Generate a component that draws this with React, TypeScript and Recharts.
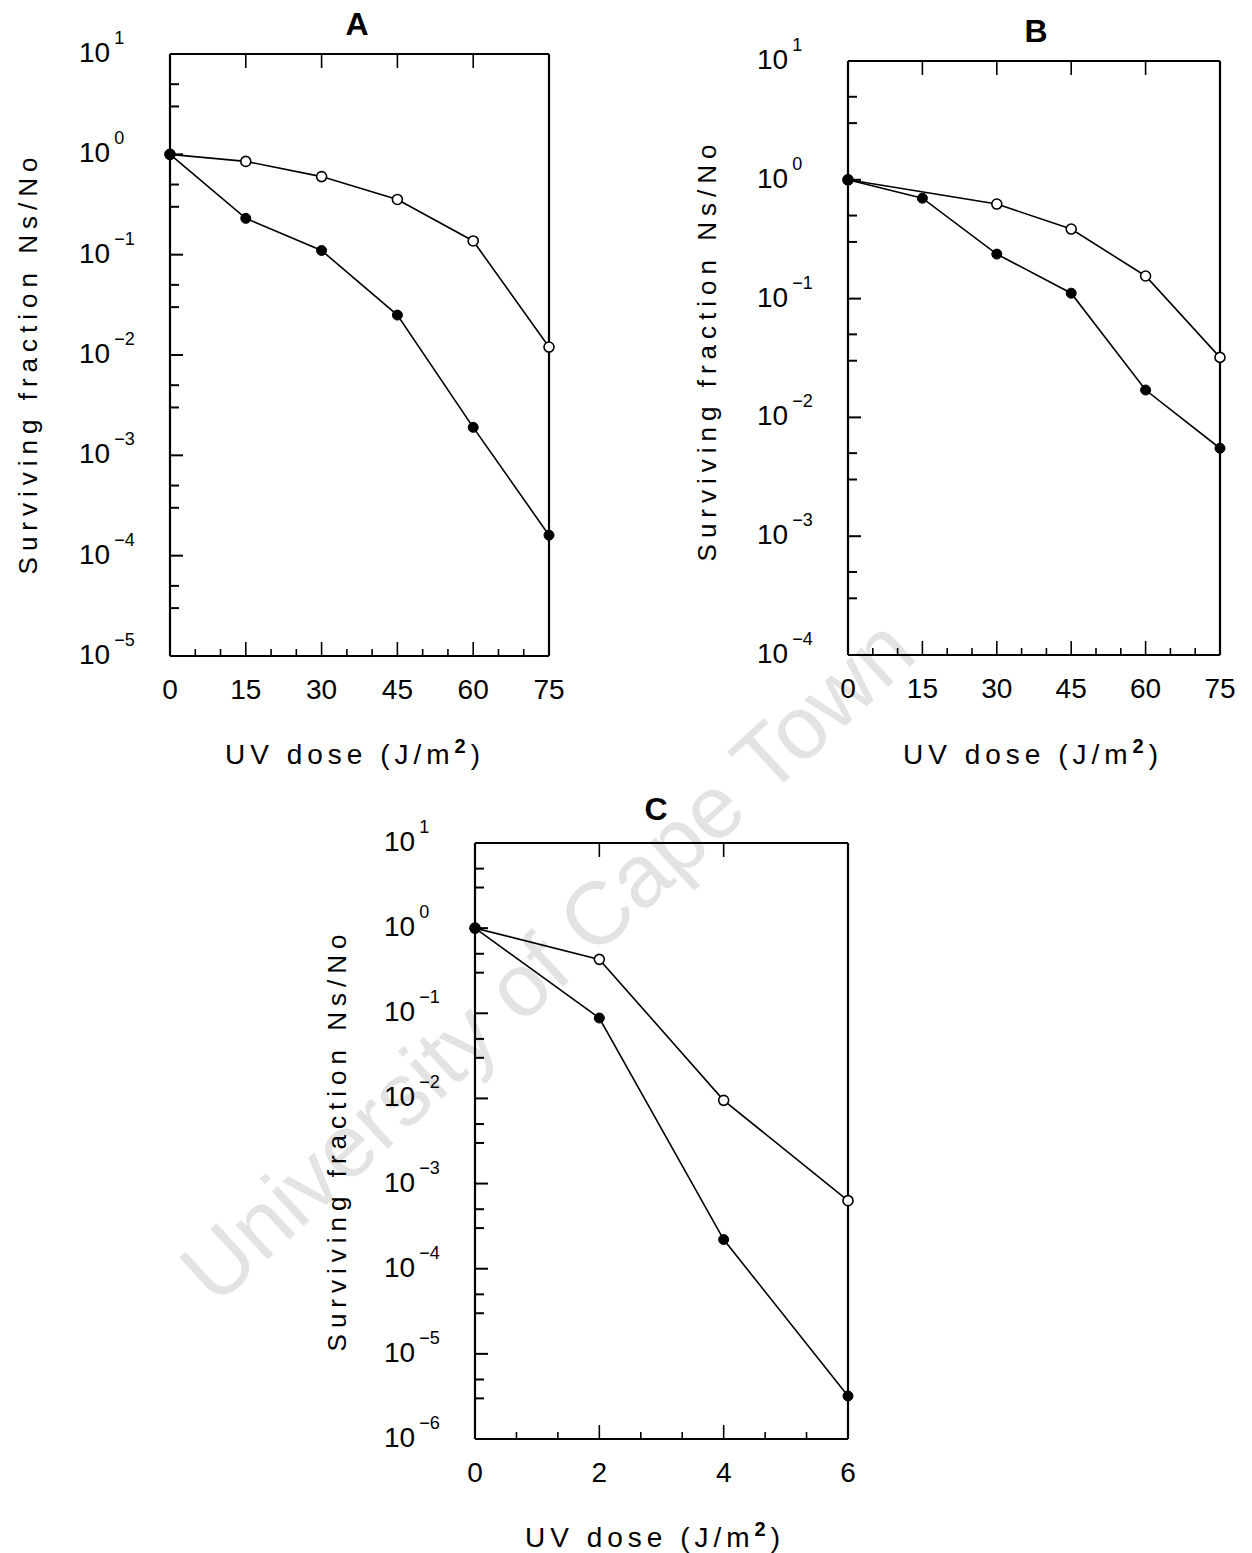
import React from "react";
import { Line, LineChart, XAxis, YAxis } from "recharts";

// UV dose (J/m2) and surviving fraction Ns/No
const DOSE_AB = [0, 15, 30, 45, 60, 75];
const A_OPEN = [1.0, 0.85, 0.6, 0.355, 0.137, 0.012];
const A_FILLED = [1.0, 0.23, 0.11, 0.025, 0.0019, 0.00016];
const B_OPEN: (number | null)[] = [1.0, null, 0.625, 0.385, 0.155, 0.032];
const B_FILLED = [1.0, 0.7, 0.237, 0.111, 0.017, 0.0055];
const DOSE_C = [0, 2, 4, 6];
const C_OPEN = [1.0, 0.43, 0.0095, 0.00063];
const C_FILLED = [1.0, 0.088, 0.00022, 0.0000032];

// axis ticks
const X_TICKS_AB = [0, 5, 10, 15, 20, 25, 30, 35, 40, 45, 50, 55, 60, 65, 70, 75];
const X_LABELS_AB = [0, 15, 30, 45, 60, 75];
const X_TOP_AB = [15, 30, 45, 60];
const X_TICKS_C = [0, 0.667, 1.333, 2, 2.667, 3.333, 4, 4.667, 5.333, 6];
const X_LABELS_C = [0, 2, 4, 6];
const X_TOP_C = [2, 4];
const DECADES_A = [-5, -4, -3, -2, -1, 0, 1];
const DECADES_B = [-4, -3, -2, -1, 0, 1];
const DECADES_C = [-6, -5, -4, -3, -2, -1, 0, 1];

const FONT = "'Liberation Sans', Arial, Helvetica, sans-serif";
const ML = 110;
const MT = 30;
const MR = 30;
const MB = 60;

function yTicksFor(decades: number[]) {
  const out: number[] = [];
  decades.forEach((k, i) => {
    out.push(Math.pow(10, k));
    if (i < decades.length - 1) {
      out.push(3 * Math.pow(10, k));
      out.push(5 * Math.pow(10, k));
    }
  });
  return out;
}

function isDecade(v: number) {
  const l = Math.log10(v);
  return Math.abs(l - Math.round(l)) < 1e-6;
}

function LeftTick(props: any) {
  const { x, y, payload } = props;
  const v = payload.value;
  const major = isDecade(v);
  const k = Math.round(Math.log10(v));
  return (
    <g>
      <line x1={x} x2={x + (major ? 13 : 9)} y1={y} y2={y} stroke="#000" strokeWidth={2} />
      {major && (
        <text x={x - 91} y={y + 8} fontSize={28} fill="#000" fontFamily={FONT}>
          10
          <tspan dx={4} dy={-18} fontSize={18}>
            {k < 0 ? "\u2212" + -k : String(k)}
          </tspan>
        </text>
      )}
    </g>
  );
}

function RightTick(props: any) {
  const { x, y, payload } = props;
  if (!isDecade(payload.value)) return <g />;
  return <line x1={x} x2={x - 12} y1={y} y2={y} stroke="#000" strokeWidth={2} />;
}

function makeBottomTick(labels: number[]) {
  return (props: any) => {
    const { x, y, payload } = props;
    const v = payload.value;
    const major = labels.some((l) => Math.abs(l - v) < 1e-3);
    return (
      <g>
        <line x1={x} x2={x} y1={y} y2={y - (major ? 14 : 7)} stroke="#000" strokeWidth={1.6} />
        {major && (
          <text x={x} y={y + 43} fontSize={28} textAnchor="middle" fill="#000" fontFamily={FONT}>
            {v}
          </text>
        )}
      </g>
    );
  };
}

function TopTick(props: any) {
  const { x, y } = props;
  return <line x1={x} x2={x} y1={y} y2={y + 14} stroke="#000" strokeWidth={1.6} />;
}

type Row = { dose: number; open: number | null; filled: number };

function Panel({
  plotLeft,
  plotTop,
  plotW,
  plotH,
  data,
  xMax,
  xTicks,
  xLabels,
  xTop,
  decades,
}: {
  plotLeft: number;
  plotTop: number;
  plotW: number;
  plotH: number;
  data: Row[];
  xMax: number;
  xTicks: number[];
  xLabels: number[];
  xTop: number[];
  decades: number[];
}) {
  const yTicks = yTicksFor(decades);
  const yDomain = [Math.pow(10, decades[0]), Math.pow(10, decades[decades.length - 1])];
  const axisLine = { stroke: "#000", strokeWidth: 2.2 };
  return (
    <div style={{ position: "absolute", left: plotLeft - ML, top: plotTop - MT }}>
      <LineChart
        width={ML + plotW + MR}
        height={MT + plotH + MB}
        data={data}
        margin={{ top: 0, right: 0, bottom: 0, left: 0 }}
      >
        <XAxis
          xAxisId="b"
          dataKey="dose"
          type="number"
          domain={[0, xMax]}
          ticks={xTicks}
          interval={0}
          height={MB}
          tickSize={0}
          tickMargin={0}
          tickLine={false}
          axisLine={axisLine}
          tick={makeBottomTick(xLabels)}
        />
        <XAxis
          xAxisId="t"
          orientation="top"
          dataKey="dose"
          type="number"
          domain={[0, xMax]}
          ticks={xTop}
          interval={0}
          height={MT}
          tickSize={0}
          tickMargin={0}
          tickLine={false}
          axisLine={axisLine}
          tick={TopTick}
        />
        <YAxis
          yAxisId="l"
          type="number"
          scale="log"
          domain={yDomain}
          ticks={yTicks}
          interval={0}
          width={ML}
          tickSize={0}
          tickMargin={0}
          tickLine={false}
          axisLine={axisLine}
          tick={LeftTick}
        />
        <YAxis
          yAxisId="r"
          orientation="right"
          type="number"
          scale="log"
          domain={yDomain}
          ticks={yTicks}
          interval={0}
          width={MR}
          tickSize={0}
          tickMargin={0}
          tickLine={false}
          axisLine={axisLine}
          tick={RightTick}
        />
        <Line
          xAxisId="b"
          yAxisId="l"
          dataKey="open"
          type="linear"
          stroke="#000"
          strokeWidth={1.6}
          connectNulls
          dot={{ r: 5, fill: "#fff", stroke: "#000", strokeWidth: 1.6 }}
          isAnimationActive={false}
        />
        <Line
          xAxisId="b"
          yAxisId="l"
          dataKey="filled"
          type="linear"
          stroke="#000"
          strokeWidth={1.6}
          dot={{ r: 5, fill: "#000", stroke: "#000", strokeWidth: 1 }}
          isAnimationActive={false}
        />
      </LineChart>
    </div>
  );
}

function Title({ text, x, y }: { text: string; x: number; y: number }) {
  return (
    <div
      style={{
        position: "absolute",
        left: x,
        top: y,
        transform: "translate(-50%, -50%)",
        fontFamily: FONT,
        fontWeight: "bold",
        fontSize: 32,
        lineHeight: 1,
      }}
    >
      {text}
    </div>
  );
}

function XLabel({ x, y }: { x: number; y: number }) {
  return (
    <div
      style={{
        position: "absolute",
        left: x,
        top: y,
        transform: "translate(-50%, -50%)",
        fontFamily: FONT,
        fontSize: 28,
        letterSpacing: 5,
        whiteSpace: "nowrap",
        lineHeight: 1,
      }}
    >
      UV dose (J/m
      <span style={{ fontSize: 20, fontWeight: "bold", verticalAlign: 11 }}>2</span>)
    </div>
  );
}

function YLabel({ x, y }: { x: number; y: number }) {
  return (
    <div
      style={{
        position: "absolute",
        left: x,
        top: y,
        transform: "translate(-50%, -50%) rotate(-90deg)",
        fontFamily: FONT,
        fontSize: 26,
        letterSpacing: 6,
        whiteSpace: "nowrap",
        lineHeight: 1,
      }}
    >
      Surviving fraction Ns/No
    </div>
  );
}

export default function App() {
  const dataA: Row[] = DOSE_AB.map((d, i) => ({ dose: d, open: A_OPEN[i], filled: A_FILLED[i] }));
  const dataB: Row[] = DOSE_AB.map((d, i) => ({ dose: d, open: B_OPEN[i], filled: B_FILLED[i] }));
  const dataC: Row[] = DOSE_C.map((d, i) => ({ dose: d, open: C_OPEN[i], filled: C_FILLED[i] }));

  return (
    <div
      style={{
        position: "absolute",
        left: 0,
        top: 0,
        width: 1252,
        height: 1553,
        background: "#fff",
        overflow: "hidden",
        color: "#000",
      }}
    >
      <div
        style={{
          position: "absolute",
          left: 547,
          top: 960,
          transform: "translate(-50%, -50%) rotate(-42.7deg)",
          fontFamily: FONT,
          fontSize: 89,
          color: "#e3e3e3",
          whiteSpace: "nowrap",
          lineHeight: 1,
        }}
      >
        University of Cape Town
      </div>

      <Panel
        plotLeft={170}
        plotTop={54}
        plotW={379}
        plotH={602}
        data={dataA}
        xMax={75}
        xTicks={X_TICKS_AB}
        xLabels={X_LABELS_AB}
        xTop={X_TOP_AB}
        decades={DECADES_A}
      />
      <Panel
        plotLeft={848}
        plotTop={61}
        plotW={372}
        plotH={594}
        data={dataB}
        xMax={75}
        xTicks={X_TICKS_AB}
        xLabels={X_LABELS_AB}
        xTop={X_TOP_AB}
        decades={DECADES_B}
      />
      <Panel
        plotLeft={475}
        plotTop={843}
        plotW={373}
        plotH={596}
        data={dataC}
        xMax={6}
        xTicks={X_TICKS_C}
        xLabels={X_LABELS_C}
        xTop={X_TOP_C}
        decades={DECADES_C}
      />

      <Title text="A" x={357} y={24} />
      <Title text="B" x={1036} y={31} />
      <Title text="C" x={656} y={809} />

      <XLabel x={355} y={752} />
      <XLabel x={1033} y={752} />
      <XLabel x={655} y={1535} />

      <YLabel x={28} y={363} />
      <YLabel x={707} y={350} />
      <YLabel x={337} y={1140} />
    </div>
  );
}
